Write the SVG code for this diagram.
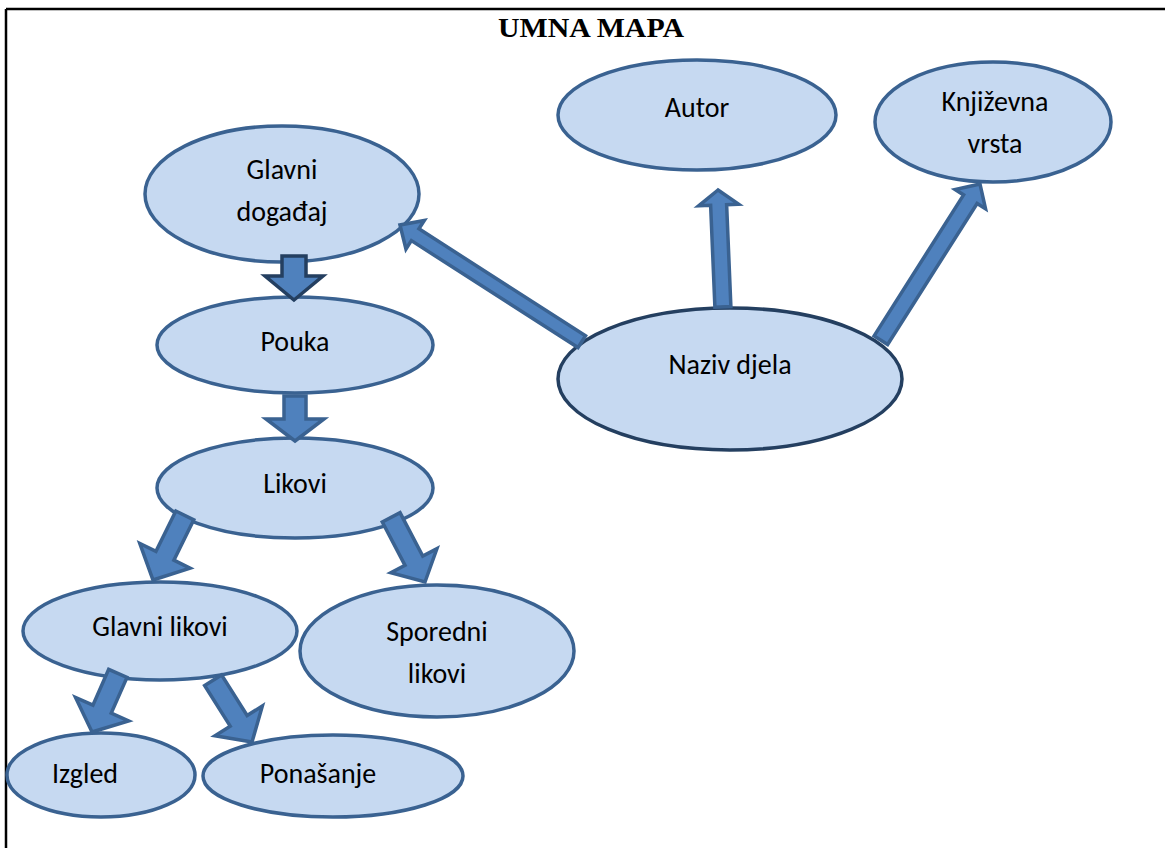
<svg xmlns="http://www.w3.org/2000/svg" width="1165" height="848" viewBox="0 0 1165 848">
<style>
.node{fill:#C6D9F1;stroke:#3A6291;stroke-width:3.5}
.node.dark{stroke:#243F60}
.lbl{font-family:"Carlito","Lato","Liberation Sans",sans-serif;font-size:28px;fill:#000;text-anchor:middle}
.arr{fill:#4F81BD;stroke:#3A6291;stroke-width:3.5;stroke-linejoin:miter}
.arr.dark{stroke:#243F60}
.title{font-family:"Liberation Serif",serif;font-weight:bold;font-size:27px;text-anchor:middle;fill:#000}
</style>
<rect width="1165" height="848" fill="#fff"/>
<g id="frame" stroke="#000" stroke-width="2.5" fill="none">
<line x1="6" y1="9" x2="1165" y2="9"/>
<line x1="6" y1="9" x2="6" y2="848"/>
</g>
<text class="title" x="591" y="37" textLength="186" lengthAdjust="spacingAndGlyphs">UMNA MAPA</text>
<g id="n-glavni-dogadjaj"><ellipse class="node" cx="282" cy="194" rx="137" ry="68"/><text class="lbl" x="282" y="179">Glavni</text><text class="lbl" x="282" y="221">događaj</text></g>
<g id="n-autor"><ellipse class="node" cx="697" cy="115" rx="139" ry="55"/><text class="lbl" x="697" y="117">Autor</text></g>
<g id="n-knjizevna-vrsta"><ellipse class="node" cx="993" cy="122" rx="118" ry="60"/><text class="lbl" x="995" y="111">Književna</text><text class="lbl" x="995" y="153">vrsta</text></g>
<g id="n-naziv-djela"><ellipse class="node dark" cx="730" cy="379" rx="172" ry="71"/><text class="lbl" x="730" y="374">Naziv djela</text></g>
<g id="n-pouka"><ellipse class="node" cx="295" cy="345" rx="138" ry="48"/><text class="lbl" x="295" y="351">Pouka</text></g>
<g id="n-likovi"><ellipse class="node" cx="295" cy="488" rx="138" ry="50"/><text class="lbl" x="295" y="493">Likovi</text></g>
<g id="n-glavni-likovi"><ellipse class="node" cx="160" cy="631" rx="137" ry="49"/><text class="lbl" x="160" y="636">Glavni likovi</text></g>
<g id="n-sporedni-likovi"><ellipse class="node" cx="437" cy="651" rx="137" ry="66"/><text class="lbl" x="437" y="641">Sporedni</text><text class="lbl" x="437" y="683">likovi</text></g>
<g id="n-izgled"><ellipse class="node" cx="101" cy="775" rx="94" ry="42"/><text class="lbl" x="85" y="783">Izgled</text></g>
<g id="n-ponasanje"><ellipse class="node" cx="333" cy="776" rx="130" ry="41"/><text class="lbl" x="318" y="783">Ponašanje</text></g>
<g id="connectors">
<path class="arr" transform="translate(400,225) rotate(212.7)" d="M0,0 L-18,-17 L-18,-7 L-216,-7 L-216,7 L-18,7 L-18,17 Z"/>
<path class="arr" transform="translate(718,190) rotate(-92.4)" d="M0,0 L-15,-20 L-15,-8 L-117,-8 L-117,8 L-15,8 L-15,20 Z"/>
<path class="arr" transform="translate(980,184) rotate(-57.6)" d="M0,0 L-18,-18 L-18,-8 L-185,-8 L-185,8 L-18,8 L-18,18 Z"/>
<path class="arr dark" transform="translate(294,300) rotate(90)" d="M0,0 L-24,-29 L-24,-12 L-44,-12 L-44,12 L-24,12 L-24,29 Z"/>
<path class="arr" transform="translate(295,441) rotate(90)" d="M0,0 L-22,-29 L-22,-11 L-45,-11 L-45,11 L-22,11 L-22,29 Z"/>
<path class="arr" transform="translate(153,580) rotate(116.2)" d="M0,0 L-27,-28 L-27,-10 L-72,-10 L-72,10 L-27,10 L-27,28 Z"/>
<path class="arr" transform="translate(425,582) rotate(62.4)" d="M0,0 L-24,-26 L-24,-10 L-73,-10 L-73,10 L-24,10 L-24,26 Z"/>
<path class="arr" transform="translate(92,732) rotate(113.8)" d="M0,0 L-25,-29 L-25,-10 L-64,-10 L-64,10 L-25,10 L-25,29 Z"/>
<path class="arr" transform="translate(252,742) rotate(57.8)" d="M0,0 L-25,-28 L-25,-10 L-73,-10 L-73,10 L-25,10 L-25,28 Z"/>
</g>
</svg>
